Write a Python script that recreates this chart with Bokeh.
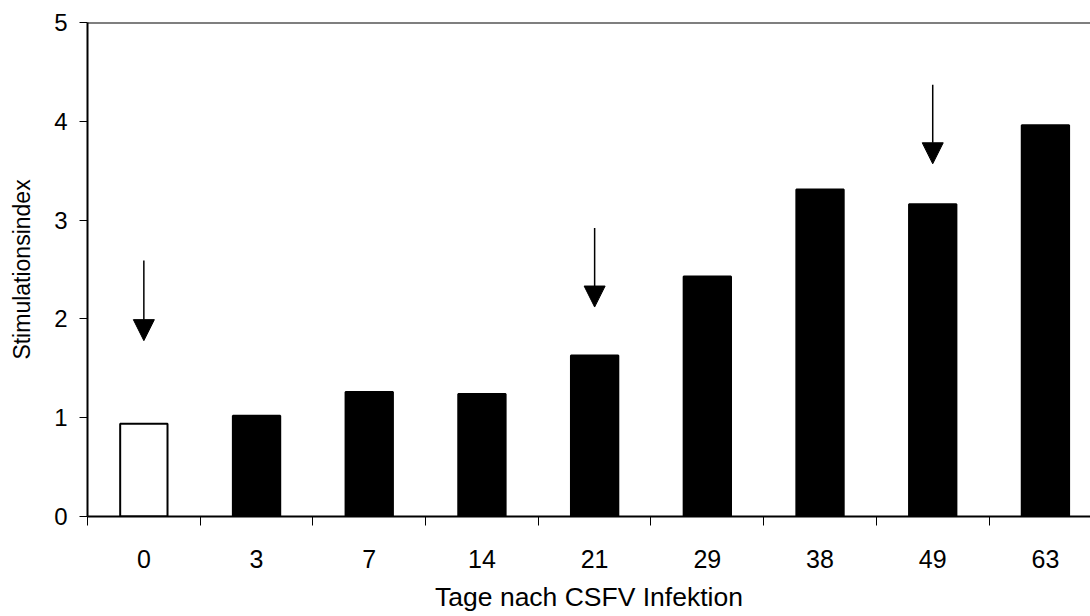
from bokeh.plotting import figure
from bokeh.models import ColumnDataSource, Range1d, FixedTicker, Span, Arrow, NormalHead
from bokeh.embed import file_html
from bokeh.resources import INLINE

# ---- data ----
days = ["0", "3", "7", "14", "21", "29", "38", "49", "63"]
stim_index = [0.94, 1.02, 1.26, 1.24, 1.63, 2.43, 3.31, 3.16, 3.96]
control_days = ["0"]
arrow_days = ["0", "21", "49"]
arrow_from = [2.59, 2.92, 4.37]
arrow_to = [1.78, 2.12, 3.57]
x_title = "Tage nach CSFV Infektion"
y_title = "Stimulationsindex"

FONT = "Liberation Sans"

xpos = [i + 0.5 for i in range(len(days))]
fills = ["white" if d in control_days else "black" for d in days]
src = ColumnDataSource(dict(x=xpos, top=stim_index, fill=fills, day=days))

p = figure(width=1090, height=614, output_backend="svg", toolbar_location=None,
           x_range=Range1d(0, 8.9), y_range=Range1d(0, 5),
           min_border_left=87, min_border_right=0, min_border_top=22,
           min_border_bottom=97)
p.outline_line_color = None
p.xgrid.grid_line_color = None
p.ygrid.grid_line_color = None
p.background_fill_color = "white"
p.border_fill_color = "white"

p.vbar(x="x", top="top", width=0.42, bottom=0, source=src,
       fill_color="fill", line_color="black", line_width=2)

# top frame line
p.add_layout(Span(location=5, dimension="width", line_color="black", line_width=2))

# arrows
for d, y0, y1 in zip(arrow_days, arrow_from, arrow_to):
    xi = days.index(d) + 0.5
    p.add_layout(Arrow(x_start=xi, y_start=y0, x_end=xi, y_end=y1,
                       line_color="black", line_width=1.5,
                       end=NormalHead(size=21, fill_color="black", line_color="black", line_width=1)))

# x axis
xa = p.xaxis[0]
xa.ticker = FixedTicker(ticks=xpos, minor_ticks=list(range(len(days) + 1)))
xa.major_label_overrides = {x: d for x, d in zip(xpos, days)}
xa.major_tick_line_color = None
xa.major_tick_out = 0
xa.major_tick_in = 0
xa.minor_tick_line_color = "black"
xa.minor_tick_out = 9
xa.minor_tick_in = 0
xa.axis_line_width = 2
xa.axis_line_color = "black"
xa.major_label_text_font = FONT
xa.major_label_text_font_size = "25px"
xa.major_label_text_color = "black"
xa.major_label_standoff = 24
xa.axis_label = x_title
xa.axis_label_text_font = FONT
xa.axis_label_text_font_size = "26.5px"
xa.axis_label_text_font_style = "normal"
xa.axis_label_text_color = "black"
xa.axis_label_standoff = 11

# y axis
ya = p.yaxis[0]
ya.ticker = FixedTicker(ticks=[0, 1, 2, 3, 4, 5])
ya.major_tick_out = 8
ya.major_tick_in = 0
ya.major_tick_line_color = "black"
ya.minor_tick_line_color = None
ya.axis_line_width = 2
ya.axis_line_color = "black"
ya.major_label_text_font = FONT
ya.major_label_text_font_size = "24px"
ya.major_label_text_color = "black"
ya.major_label_standoff = 12
ya.axis_label = y_title
ya.axis_label_text_font = FONT
ya.axis_label_text_font_size = "23px"
ya.axis_label_text_font_style = "normal"
ya.axis_label_text_color = "black"
ya.axis_label_standoff = 16

open("out.html", "w").write(file_html(p, INLINE))
